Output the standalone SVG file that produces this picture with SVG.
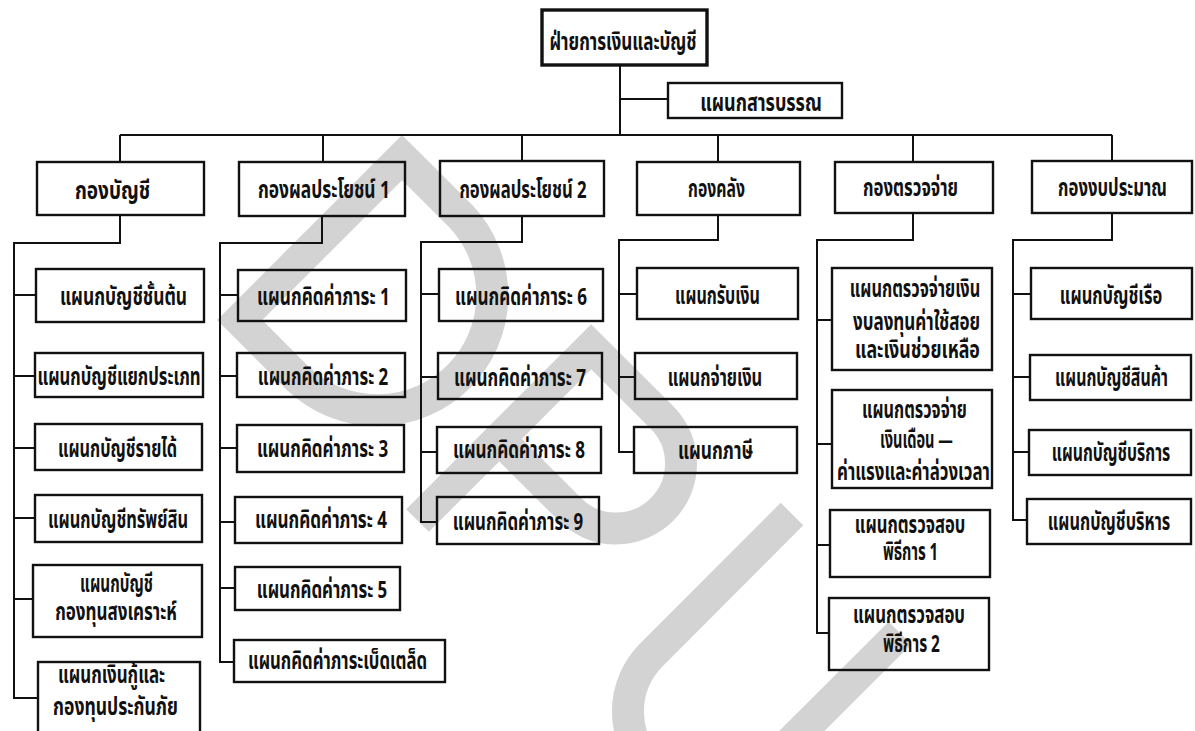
<svg xmlns="http://www.w3.org/2000/svg" width="1195" height="731" viewBox="0 0 1195 731">
  <style>
    .bg { fill: #ffffff; }
    .wm { fill: none; stroke: #d3d3d3; stroke-width: 32; stroke-linejoin: miter; stroke-linecap: butt; }
    .box { fill: none; stroke: #111; stroke-width: 2.4; }
    .box.main { stroke-width: 3.4; }
    .conn { fill: none; stroke: #111; stroke-width: 2; }
    .t { font-family: "Noto Sans Thai", "Noto Sans", "DejaVu Sans", sans-serif; font-size: 24px; font-weight: bold; text-anchor: middle; fill: #111; }
  </style>

  <rect class="bg" x="0" y="0" width="1195" height="731"/>

  <!-- light grey emblem strokes behind the chart -->
  <g id="emblem">
    <path class="wm" d="M239.6 320 L402 157.6 L460.3 215.7 A115 115 0 0 1 297.7 378.3 Z"/>
    <path class="wm" d="M417.5 520.5 L591.2 346.8 L662 417.5 A65 65 0 0 1 570 509.5 L499.3 438.8"/>
    <path class="wm" d="M792 514 L651.4 654.9 A80 80 0 0 0 764.6 768.1 L900 633"/>
  </g>

  <!-- connectors -->
  <g id="connectors">
    <path class="conn" d="M620 65 V135 M620 99 H668 M120 135 H1112"/>
    <path class="conn" d="M120 135 V162 M323 135 V162 M522 135 V161 M718 135 V162 M913 135 V162 M1112 135 V161"/>
    <!-- กองบัญชี -->
    <path class="conn" d="M120 215 V243 H14 V698 H38 M14 295 H36 M14 376 H35 M14 448 H35 M14 518 H35 M14 599 H33"/>
    <!-- กองผลประโยชน์ 1 -->
    <path class="conn" d="M322 216 V243 H220 V662 H234 M220 295 H238 M220 376 H237 M220 448 H237 M220 522 H235 M220 588 H235"/>
    <!-- กองผลประโยชน์ 2 -->
    <path class="conn" d="M522 216 V242 H421 V522 H437 M421 294 H439 M421 377 H438 M421 452 H437"/>
    <!-- กองคลัง -->
    <path class="conn" d="M718 215 V240 H619 V452 H634 M619 294 H637 M619 377 H635"/>
    <!-- กองตรวจจ่าย -->
    <path class="conn" d="M913 213 V240 H817 V633 H829 M817 320 H832 M817 444 H832 M817 545 H830"/>
    <!-- กองงบประมาณ -->
    <path class="conn" d="M1112 213 V240 H1013 V520 H1027 M1013 294 H1031 M1013 377 H1030 M1013 452 H1029"/>
  </g>

  <!-- labels are drawn narrowed: translate to (centre, baseline), squeeze horizontally -->
  <!-- top level -->
  <g id="n-finance">
    <rect class="box main" x="542" y="10" width="165" height="55"/>
    <text class="t" transform="translate(623 50) scale(0.8 1)" textLength="184" lengthAdjust="spacingAndGlyphs">ฝ่ายการเงินและบัญชี</text>
  </g>
  <g id="n-saraban">
    <rect class="box" x="668" y="83" width="174" height="35"/>
    <text class="t" transform="translate(761 111) scale(0.8 1)" textLength="152" lengthAdjust="spacingAndGlyphs">แผนกสารบรรณ</text>
  </g>

  <!-- divisions -->
  <g id="n-accounting">
    <rect class="box" x="37" y="162" width="167" height="53"/>
    <text class="t" transform="translate(112.5 199) scale(0.8 1)" textLength="94" lengthAdjust="spacingAndGlyphs">กองบัญชี</text>
  </g>
  <g id="n-revenue1">
    <rect class="box" x="239" y="162" width="166" height="54"/>
    <text class="t" transform="translate(324 198) scale(0.8 1)" textLength="165" lengthAdjust="spacingAndGlyphs">กองผลประโยชน์ 1</text>
  </g>
  <g id="n-revenue2">
    <rect class="box" x="440" y="161" width="164" height="55"/>
    <text class="t" transform="translate(523 198) scale(0.8 1)" textLength="159" lengthAdjust="spacingAndGlyphs">กองผลประโยชน์ 2</text>
  </g>
  <g id="n-treasury">
    <rect class="box" x="637" y="162" width="163" height="53"/>
    <text class="t" transform="translate(716.5 197) scale(0.8 1)" textLength="71" lengthAdjust="spacingAndGlyphs">กองคลัง</text>
  </g>
  <g id="n-audit">
    <rect class="box" x="835" y="162" width="158" height="51"/>
    <text class="t" transform="translate(910.5 196) scale(0.8 1)" textLength="119" lengthAdjust="spacingAndGlyphs">กองตรวจจ่าย</text>
  </g>
  <g id="n-budget">
    <rect class="box" x="1032" y="161" width="160" height="52"/>
    <text class="t" transform="translate(1112.5 196) scale(0.8 1)" textLength="136" lengthAdjust="spacingAndGlyphs">กองงบประมาณ</text>
  </g>

  <!-- กองบัญชี sections -->
  <g id="n-acc-primary">
    <rect class="box" x="36" y="269" width="168" height="53"/>
    <text class="t" transform="translate(123.5 305) scale(0.8 1)" textLength="159" lengthAdjust="spacingAndGlyphs">แผนกบัญชีชั้นต้น</text>
  </g>
  <g id="n-acc-ledger">
    <rect class="box" x="35" y="353" width="168" height="44"/>
    <text class="t" transform="translate(119 385) scale(0.8 1)" textLength="204" lengthAdjust="spacingAndGlyphs">แผนกบัญชีแยกประเภท</text>
  </g>
  <g id="n-acc-income">
    <rect class="box" x="35" y="424" width="167" height="46"/>
    <text class="t" transform="translate(117.5 457) scale(0.8 1)" textLength="149" lengthAdjust="spacingAndGlyphs">แผนกบัญชีรายได้</text>
  </g>
  <g id="n-acc-assets">
    <rect class="box" x="35" y="495" width="167" height="47"/>
    <text class="t" transform="translate(118 528) scale(0.8 1)" textLength="175" lengthAdjust="spacingAndGlyphs">แผนกบัญชีทรัพย์สิน</text>
  </g>
  <g id="n-acc-welfare">
    <rect class="box" x="33" y="565" width="169" height="72"/>
    <text class="t" transform="translate(116.5 592) scale(0.8 1)" textLength="91" lengthAdjust="spacingAndGlyphs">แผนกบัญชี</text>
    <text class="t" transform="translate(116 620) scale(0.8 1)" textLength="152" lengthAdjust="spacingAndGlyphs">กองทุนสงเคราะห์</text>
  </g>
  <g id="n-acc-loans">
    <rect class="box" x="38" y="662" width="162" height="75"/>
    <text class="t" transform="translate(111.5 683) scale(0.8 1)" textLength="134" lengthAdjust="spacingAndGlyphs">แผนกเงินกู้และ</text>
    <text class="t" transform="translate(115.5 715) scale(0.8 1)" textLength="156" lengthAdjust="spacingAndGlyphs">กองทุนประกันภัย</text>
  </g>

  <!-- กองผลประโยชน์ 1 sections -->
  <g id="n-fee-1">
    <rect class="box" x="238" y="270" width="168" height="51"/>
    <text class="t" transform="translate(323.5 305) scale(0.8 1)" textLength="166" lengthAdjust="spacingAndGlyphs">แผนกคิดค่าภาระ 1</text>
  </g>
  <g id="n-fee-2">
    <rect class="box" x="237" y="353" width="168" height="44"/>
    <text class="t" transform="translate(323 385) scale(0.8 1)" textLength="163" lengthAdjust="spacingAndGlyphs">แผนกคิดค่าภาระ 2</text>
  </g>
  <g id="n-fee-3">
    <rect class="box" x="237" y="425" width="167" height="47"/>
    <text class="t" transform="translate(322.5 457) scale(0.8 1)" textLength="164" lengthAdjust="spacingAndGlyphs">แผนกคิดค่าภาระ 3</text>
  </g>
  <g id="n-fee-4">
    <rect class="box" x="235" y="497" width="167" height="46"/>
    <text class="t" transform="translate(321 528) scale(0.8 1)" textLength="165" lengthAdjust="spacingAndGlyphs">แผนกคิดค่าภาระ 4</text>
  </g>
  <g id="n-fee-5">
    <rect class="box" x="235" y="567" width="165" height="43"/>
    <text class="t" transform="translate(322 598) scale(0.8 1)" textLength="163" lengthAdjust="spacingAndGlyphs">แผนกคิดค่าภาระ 5</text>
  </g>
  <g id="n-fee-misc">
    <rect class="box" x="234" y="640" width="211" height="42"/>
    <text class="t" transform="translate(337.5 669) scale(0.8 1)" textLength="224" lengthAdjust="spacingAndGlyphs">แผนกคิดค่าภาระเบ็ดเตล็ด</text>
  </g>

  <!-- กองผลประโยชน์ 2 sections -->
  <g id="n-fee-6">
    <rect class="box" x="439" y="269" width="164" height="52"/>
    <text class="t" transform="translate(521 305) scale(0.8 1)" textLength="165" lengthAdjust="spacingAndGlyphs">แผนกคิดค่าภาระ 6</text>
  </g>
  <g id="n-fee-7">
    <rect class="box" x="438" y="353" width="164" height="46"/>
    <text class="t" transform="translate(520 386) scale(0.8 1)" textLength="165" lengthAdjust="spacingAndGlyphs">แผนกคิดค่าภาระ 7</text>
  </g>
  <g id="n-fee-8">
    <rect class="box" x="437" y="427" width="164" height="46"/>
    <text class="t" transform="translate(519 458) scale(0.8 1)" textLength="165" lengthAdjust="spacingAndGlyphs">แผนกคิดค่าภาระ 8</text>
  </g>
  <g id="n-fee-9">
    <rect class="box" x="437" y="497" width="162" height="47"/>
    <text class="t" transform="translate(518 530) scale(0.8 1)" textLength="163" lengthAdjust="spacingAndGlyphs">แผนกคิดค่าภาระ 9</text>
  </g>

  <!-- กองคลัง sections -->
  <g id="n-receive">
    <rect class="box" x="637" y="268" width="161" height="51"/>
    <text class="t" transform="translate(717.5 304) scale(0.8 1)" textLength="106" lengthAdjust="spacingAndGlyphs">แผนกรับเงิน</text>
  </g>
  <g id="n-pay">
    <rect class="box" x="635" y="353" width="162" height="46"/>
    <text class="t" transform="translate(715 386) scale(0.8 1)" textLength="118" lengthAdjust="spacingAndGlyphs">แผนกจ่ายเงิน</text>
  </g>
  <g id="n-tax">
    <rect class="box" x="634" y="427" width="163" height="46"/>
    <text class="t" transform="translate(715.5 459) scale(0.8 1)" textLength="94" lengthAdjust="spacingAndGlyphs">แผนกภาษี</text>
  </g>

  <!-- กองตรวจจ่าย sections -->
  <g id="n-audit-invest">
    <rect class="box" x="832" y="268" width="160" height="102"/>
    <text class="t" transform="translate(915 297) scale(0.8 1)" textLength="163" lengthAdjust="spacingAndGlyphs">แผนกตรวจจ่ายเงิน</text>
    <text class="t" transform="translate(916.5 330) scale(0.8 1)" textLength="159" lengthAdjust="spacingAndGlyphs">งบลงทุนค่าใช้สอย</text>
    <text class="t" transform="translate(917.5 358) scale(0.8 1)" textLength="156" lengthAdjust="spacingAndGlyphs">และเงินช่วยเหลือ</text>
  </g>
  <g id="n-audit-salary">
    <rect class="box" x="832" y="390" width="160" height="98"/>
    <text class="t" transform="translate(914.5 418) scale(0.8 1)" textLength="131" lengthAdjust="spacingAndGlyphs">แผนกตรวจจ่าย</text>
    <text class="t" transform="translate(916.5 448) scale(0.8 1)" textLength="91" lengthAdjust="spacingAndGlyphs">เงินเดือน —</text>
    <text class="t" transform="translate(913.5 480) scale(0.8 1)" textLength="191" lengthAdjust="spacingAndGlyphs">ค่าแรงและค่าล่วงเวลา</text>
  </g>
  <g id="n-customs-1">
    <rect class="box" x="830" y="510" width="160" height="67"/>
    <text class="t" transform="translate(910 533) scale(0.8 1)" textLength="138" lengthAdjust="spacingAndGlyphs">แผนกตรวจสอบ</text>
    <text class="t" transform="translate(910.5 560) scale(0.8 1)" textLength="69" lengthAdjust="spacingAndGlyphs">พิธีการ 1</text>
  </g>
  <g id="n-customs-2">
    <rect class="box" x="829" y="598" width="160" height="72"/>
    <text class="t" transform="translate(909 623) scale(0.8 1)" textLength="140" lengthAdjust="spacingAndGlyphs">แผนกตรวจสอบ</text>
    <text class="t" transform="translate(911.5 652) scale(0.8 1)" textLength="71" lengthAdjust="spacingAndGlyphs">พิธีการ 2</text>
  </g>

  <!-- กองงบประมาณ sections -->
  <g id="n-bud-ship">
    <rect class="box" x="1031" y="268" width="161" height="51"/>
    <text class="t" transform="translate(1111 304) scale(0.8 1)" textLength="128" lengthAdjust="spacingAndGlyphs">แผนกบัญชีเรือ</text>
  </g>
  <g id="n-bud-goods">
    <rect class="box" x="1030" y="355" width="161" height="45"/>
    <text class="t" transform="translate(1111.5 386) scale(0.8 1)" textLength="141" lengthAdjust="spacingAndGlyphs">แผนกบัญชีสินค้า</text>
  </g>
  <g id="n-bud-service">
    <rect class="box" x="1029" y="430" width="162" height="45"/>
    <text class="t" transform="translate(1111 461) scale(0.8 1)" textLength="148" lengthAdjust="spacingAndGlyphs">แผนกบัญชีบริการ</text>
  </g>
  <g id="n-bud-admin">
    <rect class="box" x="1027" y="499" width="164" height="45"/>
    <text class="t" transform="translate(1109 530) scale(0.8 1)" textLength="153" lengthAdjust="spacingAndGlyphs">แผนกบัญชีบริหาร</text>
  </g>
</svg>
